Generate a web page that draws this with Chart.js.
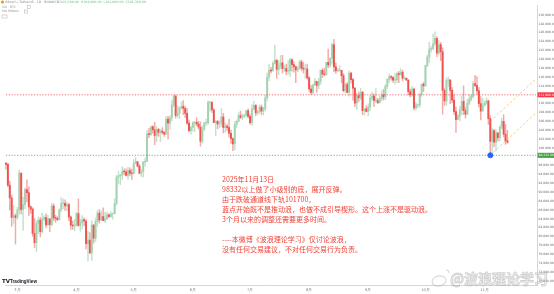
<!DOCTYPE html>
<html>
<head>
<meta charset="utf-8">
<script src="https://cdn.jsdelivr.net/npm/chart.js@4.4.1/dist/chart.umd.min.js"></script>
<style>
  html, body { margin: 0; padding: 0; background: #fff; }
  #wrap { width: 554px; height: 294px; }
</style>
</head>
<body>
<div id="wrap"><canvas id="chart" width="554" height="294"></canvas></div>
<script>
// Daily candles (prices in thousands USD), first candle on startDay
const startDay = '2025-02-23';
const padDays = 15; // empty slots right of the last candle

const opens = [
  // Feb
  96.6, 96.3, 91.6, 88.7, 84.3, 84.7,
  // Mar
  84.3, 86.0, 94.3, 86.1, 87.2, 90.6, 89.9, 86.7, 86.2, 80.7, 78.6, 82.9, 83.7, 81.1, 84.0, 84.3,
  82.6, 84.0, 82.7, 86.9, 84.2, 84.1, 83.8, 86.1, 87.5, 87.5, 86.9, 87.2, 84.4, 82.6, 82.4,
  // Apr
  82.5, 85.2, 82.5, 83.1, 83.8, 83.5, 78.4, 79.2, 76.3, 82.6, 79.6, 83.4, 85.3, 83.7, 84.5,
  83.6, 84.0, 84.9, 84.5, 85.1, 85.2, 87.5, 93.4, 93.7, 93.9, 94.7, 94.6, 93.8, 94.9, 94.3,
  // May
  94.2, 96.5, 96.9, 95.9, 94.3, 94.7, 96.8, 97.0, 103.2, 103.0, 104.8, 104.1, 102.8, 104.2, 103.5, 103.8,
  103.5, 103.1, 106.5, 105.6, 106.8, 109.7, 111.7, 107.3, 107.8, 109.0, 109.4, 108.9, 107.8, 105.6, 103.9,
  // Jun
  104.6, 105.7, 105.8, 105.4, 104.7, 101.5, 104.3, 105.6, 105.7, 110.3, 110.3, 108.6, 105.7, 106.0, 105.4,
  105.6, 107.0, 104.6, 104.9, 104.6, 103.3, 102.1, 100.9, 105.3, 106.0, 107.3, 106.9, 107.1, 107.3, 108.4,
  // Jul
  107.1, 105.7, 108.8, 109.6, 107.9, 108.2, 109.2, 108.3, 108.9, 111.3, 116.0, 117.5, 117.4, 119.1, 119.8, 117.7,
  118.6, 119.2, 117.9, 117.9, 117.3, 117.4, 119.9, 118.8, 118.3, 117.6, 117.9, 119.4, 118.0, 117.8, 117.8,
  // Aug
  115.8, 113.3, 112.5, 114.2, 115.0, 114.1, 115.0, 117.5, 116.7, 116.5, 119.3, 118.7, 120.2, 123.3, 118.3, 117.4,
  117.5, 117.5, 116.3, 112.9, 114.3, 112.5, 116.9, 115.4, 113.5, 110.1, 111.8, 111.3, 112.6, 108.4, 108.8,
  // Sep
  108.2, 109.2, 111.2, 111.7, 110.7, 110.7, 110.2, 111.1, 112.0, 111.5, 113.9, 115.5, 116.1, 115.9, 115.3,
  115.4, 116.8, 116.5, 117.1, 115.7, 115.7, 115.3, 112.7, 112.0, 113.3, 109.0, 109.7, 109.7, 112.1, 114.4,
  // Oct
  114.0, 118.6, 120.5, 122.3, 122.4, 123.5, 124.7, 121.4, 123.3, 121.7, 113.0, 110.6, 115.2, 115.3, 113.0, 110.8,
  108.2, 106.4, 107.2, 108.6, 110.5, 108.4, 107.6, 110.1, 111.0, 111.6, 114.5, 114.1, 112.9, 110.0, 108.3,
  // Nov
  109.6, 110.1, 110.6, 106.6, 101.5, 103.9, 101.3, 103.4, 102.3, 104.7, 106.0, 103.1, 101.6
];
const highs = [
  96.7, 96.5, 92.5, 89.3, 87.0, 85.1,
  86.6, 95.0, 94.4, 88.9, 91.0, 92.8, 91.2, 86.9, 86.5, 84.1, 83.6, 84.4, 84.3, 85.3, 84.7, 85.1,
  84.8, 84.0, 87.5, 87.4, 84.8, 84.5, 86.2, 88.8, 88.5, 88.3, 87.8, 87.5, 84.6, 83.5, 83.9,
  85.5, 88.5, 83.9, 84.7, 84.2, 83.8, 81.2, 80.9, 83.6, 82.7, 84.2, 85.9, 86.1, 85.8, 86.5,
  85.5, 85.5, 85.1, 85.6, 85.3, 88.5, 93.8, 94.7, 94.0, 95.8, 95.3, 95.3, 95.6, 95.5, 95.2,
  97.4, 97.9, 96.9, 96.3, 95.2, 96.9, 97.7, 104.0, 104.4, 104.9, 105.0, 105.8, 104.9, 104.4, 104.2, 104.6,
  103.7, 107.1, 107.1, 107.3, 110.8, 111.98, 111.9, 109.5, 109.3, 110.4, 110.7, 109.3, 108.9, 106.3, 104.9,
  105.9, 105.9, 106.8, 106.0, 105.9, 105.0, 105.9, 106.5, 110.6, 110.4, 110.4, 108.8, 106.2, 106.2, 106.1,
  108.9, 107.8, 105.6, 105.3, 106.5, 104.0, 102.3, 106.0, 106.3, 108.0, 108.3, 107.7, 107.6, 108.5, 108.8,
  107.5, 109.8, 110.5, 109.8, 108.4, 109.7, 109.7, 109.2, 111.9, 116.9, 118.9, 118.2, 119.5, 123.2, 119.9, 119.7,
  120.9, 120.9, 118.6, 118.9, 119.7, 120.2, 120.1, 119.5, 118.5, 118.4, 119.8, 119.8, 119.3, 118.8, 118.9,
  116.1, 114.1, 114.4, 115.7, 115.1, 115.7, 117.6, 117.9, 117.9, 119.3, 122.3, 120.3, 123.7, 124.5, 119.2, 117.9,
  118.6, 117.5, 116.8, 114.6, 114.8, 117.4, 117.0, 115.7, 113.6, 112.4, 112.6, 113.5, 112.7, 108.9, 109.5,
  109.9, 111.8, 112.6, 112.2, 113.4, 111.2, 111.6, 112.9, 113.2, 114.3, 115.6, 116.7, 116.3, 116.1, 116.8,
  117.0, 117.3, 117.9, 117.5, 116.2, 115.8, 115.4, 113.3, 113.9, 113.5, 110.3, 109.8, 112.4, 114.4, 114.8,
  118.7, 121.0, 123.9, 122.9, 125.7, 126.2, 125.1, 124.2, 123.8, 122.6, 113.4, 115.8, 116.0, 115.5, 113.6, 112.0,
  109.2, 107.5, 109.4, 111.7, 114.0, 109.1, 111.0, 112.0, 111.9, 115.0, 116.4, 116.1, 113.6, 111.6, 111.2,
  110.6, 111.3, 110.8, 107.3, 104.5, 104.2, 104.1, 103.4, 105.0, 106.7, 107.5, 105.3, 104.0
];
const lows = [
  95.2, 91.2, 86.0, 82.3, 82.8, 78.3,
  83.8, 85.0, 85.1, 81.4, 86.3, 87.8, 84.7, 85.2, 80.0, 77.5, 76.6, 80.6, 79.9, 80.8, 83.6, 82.0,
  82.5, 81.1, 82.4, 83.6, 83.2, 83.6, 83.7, 85.5, 86.3, 85.9, 85.8, 83.6, 81.6, 81.6, 81.3,
  82.4, 82.3, 81.2, 81.7, 82.4, 77.2, 74.5, 76.2, 74.6, 78.5, 78.9, 82.3, 83.0, 83.7, 83.6,
  83.1, 83.9, 84.3, 84.3, 83.9, 85.1, 87.1, 91.9, 91.7, 92.9, 93.9, 93.6, 92.9, 93.7, 92.9,
  94.1, 96.4, 95.7, 94.1, 93.5, 93.4, 95.8, 96.9, 102.3, 102.8, 103.3, 100.7, 101.4, 102.6, 101.4, 103.1,
  102.6, 103.0, 102.0, 104.2, 106.1, 109.3, 106.7, 106.9, 106.6, 108.7, 107.5, 106.8, 105.3, 103.6, 103.1,
  103.8, 103.7, 105.0, 104.2, 100.4, 101.1, 103.9, 105.1, 105.3, 108.3, 108.0, 105.7, 102.7, 104.3, 104.5,
  104.8, 103.4, 103.5, 103.9, 102.4, 101.0, 99.4, 99.6, 104.6, 105.9, 106.6, 106.4, 106.8, 107.2, 106.7,
  105.3, 105.1, 108.6, 107.3, 107.5, 107.8, 107.5, 107.4, 108.4, 110.6, 115.2, 116.9, 117.3, 118.9, 115.7, 116.5,
  117.9, 116.9, 117.3, 116.5, 116.6, 116.1, 117.3, 117.1, 114.7, 117.2, 117.8, 117.4, 116.9, 115.7, 115.5,
  112.7, 112.0, 112.1, 114.1, 112.6, 113.4, 114.3, 115.9, 116.3, 116.5, 118.1, 118.2, 118.9, 117.2, 116.8, 117.2,
  117.3, 114.7, 112.7, 112.4, 112.4, 111.7, 114.6, 110.8, 109.3, 108.7, 110.4, 110.9, 107.5, 107.4, 108.1,
  107.3, 108.4, 110.7, 109.3, 110.2, 110.0, 110.1, 110.6, 110.8, 110.9, 113.4, 114.7, 115.3, 114.8, 114.4,
  114.8, 114.7, 116.4, 115.1, 115.5, 115.3, 111.9, 111.5, 111.6, 108.6, 108.6, 109.1, 109.2, 111.6, 112.7,
  113.9, 118.3, 119.3, 121.6, 122.1, 123.1, 120.6, 121.0, 119.7, 107.6, 109.6, 109.6, 113.8, 110.0, 110.2, 107.5,
  103.5, 106.4, 106.1, 107.5, 107.5, 106.7, 107.5, 109.7, 110.6, 111.3, 113.8, 112.2, 109.2, 106.3, 108.3,
  109.4, 109.8, 105.3, 98.332, 98.9, 100.3, 99.3, 101.5, 101.5, 104.3, 102.5, 100.8, 101.0
];
const closes = [
  96.3, 91.6, 88.7, 84.3, 84.7, 84.3,
  86.0, 94.3, 86.1, 87.2, 90.6, 89.9, 86.7, 86.2, 80.7, 78.6, 82.9, 83.7, 81.1, 84.0, 84.3, 82.6,
  84.0, 82.7, 86.9, 84.2, 84.1, 83.8, 86.1, 87.5, 87.5, 86.9, 87.2, 84.4, 82.6, 82.4, 82.5,
  85.2, 82.5, 83.1, 83.8, 83.5, 78.4, 79.2, 76.3, 82.6, 79.6, 83.4, 85.3, 83.7, 84.5, 83.6,
  84.0, 84.9, 84.5, 85.1, 85.2, 87.5, 93.4, 93.7, 93.9, 94.7, 94.6, 93.8, 94.9, 94.3, 94.2,
  96.5, 96.9, 95.9, 94.3, 94.7, 96.8, 97.0, 103.2, 103.0, 104.8, 104.1, 102.8, 104.2, 103.5, 103.8, 103.5,
  103.1, 106.5, 105.6, 106.8, 109.7, 111.7, 107.3, 107.8, 109.0, 109.4, 108.9, 107.8, 105.6, 103.9, 104.6,
  105.7, 105.8, 105.4, 104.7, 101.5, 104.3, 105.6, 105.7, 110.3, 110.3, 108.6, 105.7, 106.0, 105.4, 105.6,
  107.0, 104.6, 104.9, 104.6, 103.3, 102.1, 100.9, 105.3, 106.0, 107.3, 106.9, 107.1, 107.3, 108.4, 107.1,
  105.7, 108.8, 109.6, 107.9, 108.2, 109.2, 108.3, 108.9, 111.3, 116.0, 117.5, 117.4, 119.1, 119.8, 117.7, 118.6,
  119.2, 117.9, 117.9, 117.3, 117.4, 119.9, 118.8, 118.3, 117.6, 117.9, 119.4, 118.0, 117.8, 117.8, 115.8,
  113.3, 112.5, 114.2, 115.0, 114.1, 115.0, 117.5, 116.7, 116.5, 119.3, 118.7, 120.2, 123.3, 118.3, 117.4, 117.5,
  117.5, 116.3, 112.9, 114.3, 112.5, 116.9, 115.4, 113.5, 110.1, 111.8, 111.3, 112.6, 108.4, 108.8, 108.2,
  109.2, 111.2, 111.7, 110.7, 110.7, 110.2, 111.1, 112.0, 111.5, 113.9, 115.5, 116.1, 115.9, 115.3, 115.4,
  116.8, 116.5, 117.1, 115.7, 115.7, 115.3, 112.7, 112.0, 113.3, 109.0, 109.7, 109.7, 112.1, 114.4, 114.0,
  118.6, 120.5, 122.3, 122.4, 123.5, 124.7, 121.4, 123.3, 121.7, 113.0, 110.6, 115.2, 115.3, 113.0, 110.8, 108.2,
  106.4, 107.2, 108.6, 110.5, 108.4, 107.6, 110.1, 111.0, 111.6, 114.5, 114.1, 112.9, 110.0, 108.3, 109.6,
  110.1, 110.6, 106.6, 101.5, 103.9, 101.3, 103.4, 102.3, 104.7, 106.0, 103.1, 101.6, 101.3
];

// Axis
const yTicks = [70, 72, 74, 76, 78, 80, 82, 84, 86, 88, 90, 92, 94, 96, 98, 100, 102, 104, 106, 108,
  110, 112, 114, 116, 118, 120, 122, 124, 126, 128, 130];
const yMin = 69.06;
const yMax = 132.25;
const monthNames = ['1月', '2月', '3月', '4月', '5月', '6月', '7月', '8月', '9月', '10月', '11月', '12月'];

// Drawings
const redLevel = 111.98;
const greenLevel = 98.332;
const dotDay = '2025-11-04';
const railDays = ['2025-11-04', '2025-11-28'];
const lowerRail = [98.332, 107.9];
const upperRail = [106.0, 115.6];

const noteLines = [
  '2025年11月13日',
  '98332以上做了小级别的底，展开反弹。',
  '由于跌破通道线下轨101700，',
  '蓝点开始既不是推动浪，也做不成引导楔形。这个上涨不是驱动浪。',
  '3个月以来的调整还需要更多时间。',
  '',
  '----本微博《波浪理论学习》仅讨论波浪，',
  '没有任何交易建议，不对任何交易行为负责。'
];

// Colors
const upBody = '#a4d2b1';
const upWick = '#c3e2cc';
const downBody = '#ef5350';
const downWick = '#f5a8a8';

// Date labels
const labels = [];
const t0 = new Date(startDay + 'T00:00:00Z').getTime();
for (let i = 0; i < opens.length + padDays; i++) {
  labels.push(new Date(t0 + i * 86400000).toISOString().slice(0, 10));
}

const isUp = opens.map((o, i) => closes[i] >= o);
const fmt = v => (v * 1000).toLocaleString('en-US', { minimumFractionDigits: 2, maximumFractionDigits: 2 });

// Overlay: price boxes, header, note, logos
const overlay = {
  id: 'overlay',
  afterDraw(chart) {
    const ctx = chart.ctx;
    const ys = chart.scales.y;
    ctx.save();

    // price boxes on the axis
    [[redLevel, '#f23645'], [greenLevel, '#43a047']].forEach(([v, c]) => {
      const py = ys.getPixelForValue(v);
      ctx.fillStyle = c;
      ctx.fillRect(ys.left + 0.5, py - 2.5, ys.width - 0.5, 5);
      ctx.fillStyle = '#fff';
      ctx.font = '3px "DejaVu Sans"';
      ctx.textBaseline = 'middle';
      ctx.fillText(fmt(v), ys.left + 1.5, py);
    });

    // header
    const n = opens.length - 1;
    ctx.textBaseline = 'middle';
    ctx.fillStyle = '#f7931a';
    ctx.beginPath();
    ctx.arc(2.5, 2, 1.6, 0, Math.PI * 2);
    ctx.fill();
    ctx.font = '3.2px "DejaVu Sans"';
    ctx.fillStyle = '#888';
    ctx.fillText('Bitcoin / TetherUS · 1D · BINANCE', 5.5, 2);
    ctx.fillStyle = '#6fbf8a';
    ctx.fillText('O' + fmt(opens[n]) + '  H' + fmt(highs[n]) + '  L' + fmt(lows[n]) + '  C' + fmt(closes[n]), 58, 2);
    ctx.fillStyle = '#999';
    ctx.fillText('Vol · BTC', 2, 7);
    ctx.fillText('MA Ribbon', 2, 11.5);
    ctx.strokeStyle = '#bbb';
    ctx.lineWidth = 0.6;
    ctx.strokeRect(27.5, 5.5, 3, 3);
    ctx.strokeRect(24.5, 10, 3, 3);
    ctx.strokeRect(2, 15, 5, 3);

    // note
    ctx.fillStyle = '#f04438';
    ctx.font = '7px "Noto Sans CJK SC"';
    noteLines.forEach((t, i) => ctx.fillText(t, 222, 179 + i * 10));

    // TradingView logo
    ctx.fillStyle = '#131722';
    ctx.font = 'bold 5.5px "DejaVu Sans"';
    ctx.fillText('TV', 2, 281.5);
    ctx.font = 'bold 4.6px "Liberation Sans"';
    ctx.fillText('TradingView', 10, 281.5);

    // watermark
    ctx.globalAlpha = 0.45;
    ctx.strokeStyle = '#a8a8a8';
    ctx.lineWidth = 1.1;
    ctx.beginPath();
    ctx.ellipse(439, 281, 7, 5, -0.2, 0, Math.PI * 2);
    ctx.stroke();
    ctx.beginPath();
    ctx.arc(446, 273, 3, -Math.PI / 2, 0);
    ctx.stroke();
    ctx.font = 'bold 14px "Noto Sans CJK SC"';
    ctx.lineWidth = 0.9;
    ctx.strokeStyle = '#a0a0a0';
    ctx.fillStyle = '#ececec';
    ctx.fillText('@波浪理论学习', 450, 279);
    ctx.strokeText('@波浪理论学习', 450, 279);
    ctx.restore();
  }
};

new Chart(document.getElementById('chart'), {
  type: 'bar',
  data: {
    labels: labels,
    datasets: [
      {
        label: 'wick',
        data: lows.map((l, i) => [l, highs[i]]),
        backgroundColor: isUp.map(u => u ? upWick : downWick),
        barThickness: 0.8,
        grouped: false,
        order: 6
      },
      {
        label: 'body',
        data: opens.map((o, i) => [o, closes[i]]),
        backgroundColor: isUp.map(u => u ? upBody : downBody),
        barThickness: 1.3,
        minBarLength: 0.7,
        grouped: false,
        order: 5
      },
      {
        type: 'line',
        label: 'red level',
        data: [{ x: labels[0], y: redLevel }, { x: labels[labels.length - 1], y: redLevel }],
        borderColor: 'rgba(242,54,69,0.75)',
        borderWidth: 1,
        borderDash: [1.2, 1.6],
        pointRadius: 0,
        order: 4
      },
      {
        type: 'line',
        label: 'green level',
        data: [{ x: labels[0], y: greenLevel }, { x: labels[labels.length - 1], y: greenLevel }],
        borderColor: 'rgba(67,160,71,0.75)',
        borderWidth: 1,
        borderDash: [1.2, 1.6],
        pointRadius: 0,
        order: 4
      },
      {
        type: 'line',
        label: 'lower rail',
        data: railDays.map((d, i) => ({ x: d, y: lowerRail[i] })),
        borderColor: 'rgba(255,152,0,0.5)',
        borderWidth: 1,
        borderDash: [2.5, 2],
        pointRadius: 0,
        order: 3
      },
      {
        type: 'line',
        label: 'upper rail',
        data: railDays.map((d, i) => ({ x: d, y: upperRail[i] })),
        borderColor: 'rgba(255,152,0,0.5)',
        borderWidth: 1,
        borderDash: [2.5, 2],
        pointRadius: 0,
        order: 3
      },
      {
        type: 'line',
        label: 'dot',
        data: [{ x: dotDay, y: greenLevel }],
        showLine: false,
        pointRadius: 2.5,
        pointBackgroundColor: '#2962ff',
        pointBorderColor: '#2962ff',
        order: 1
      }
    ]
  },
  options: {
    responsive: false,
    animation: false,
    devicePixelRatio: 1,
    layout: { padding: 0 },
    plugins: {
      legend: { display: false },
      tooltip: { enabled: false }
    },
    scales: {
      x: {
        type: 'category',
        offset: true,
        grid: { color: 'rgba(0,0,0,0)', drawTicks: false },
        border: { display: true, color: '#d6d6d6', width: 1 },
        ticks: {
          autoSkip: false,
          maxRotation: 0,
          minRotation: 0,
          padding: 3,
          color: '#7a7a7a',
          font: { size: 3.6, family: 'DejaVu Sans' },
          callback: function(value, index) {
            const lab = labels[index];
            if (lab && lab.slice(8) === '01') return monthNames[parseInt(lab.slice(5, 7), 10) - 1];
            return '';
          }
        },
        afterFit: function(scale) {
          scale.height = 9;
          scale.paddingLeft = 0;
          scale.paddingRight = 0;
        }
      },
      y: {
        position: 'right',
        min: yMin,
        max: yMax,
        grid: { color: 'rgba(0,0,0,0)', drawTicks: false },
        border: { display: true, color: '#d6d6d6', width: 1 },
        afterBuildTicks: function(scale) {
          scale.ticks = yTicks.map(v => ({ value: v }));
        },
        ticks: {
          padding: 1.5,
          color: '#666',
          font: { size: 3, family: 'DejaVu Sans' },
          callback: v => fmt(v)
        },
        afterFit: function(scale) {
          scale.width = 17;
          scale.paddingTop = 0;
          scale.paddingBottom = 0;
        }
      }
    }
  },
  plugins: [overlay]
});
</script>
</body>
</html>
